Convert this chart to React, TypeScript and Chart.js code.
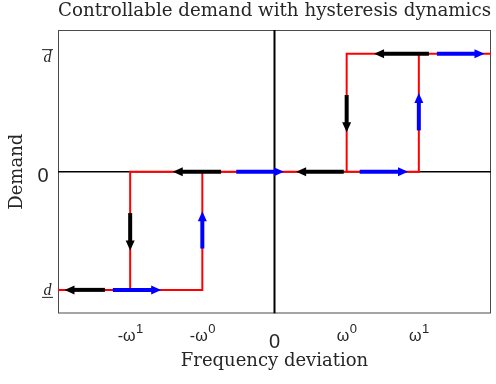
import React, { useEffect, useRef } from 'react';
import { Chart, registerables } from 'chart.js';

Chart.register(...registerables);

// ---- text ----
const titleText = 'Controllable demand with hysteresis dynamics';
const xAxisLabel = 'Frequency deviation';
const yAxisLabel = 'Demand';

// ---- axes ----
const xMin = -3;
const xMax = 3;
const yMin = -1.2;
const yMax = 1.2;

// x ticks: -ω¹, -ω⁰, 0, ω⁰, ω¹
const xTickValues = [-2, -1, 0, 1, 2];
const xTickBase = ['-ω', '-ω', '0', 'ω', 'ω'];
const xTickSup = ['1', '0', '', '0', '1'];

// y ticks: d (under-barred), 0, d (over-barred)
const yTickValues = [-1, 0, 1];
const yTickLabels = ['d', '0', 'd'];
const yTickBar = ['under', 'none', 'over'];

// ---- hysteresis branches (red) ----
const branchLowX = [-3, -1, -1];
const branchLowY = [-1, -1, 0];
const branchMidX = [-2, -2, 2, 2];
const branchMidY = [-1, 0, 0, 1];
const branchHighX = [1, 1, 3];
const branchHighY = [0, 1, 1];

// ---- zero axes (black) ----
const axisHX = [-3, 3];
const axisHY = [0, 0];
const axisVX = [0, 0];
const axisVY = [-1.2, 1.2];

// ---- direction arrows (start -> tip) ----
const arrowX0 = [2.14, 0.96, -0.74, -2.35, 1, -2, 2.25, 1.18, -0.53, -2.24, 2, -1];
const arrowY0 = [1, 0, 0, -1, 0.65, -0.35, 1, 0, 0, -1, 0.35, -0.65];
const arrowX1 = [1.38, 0.3, -1.41, -2.91, 1, -2, 2.91, 1.85, 0.13, -1.57, 2, -1];
const arrowY1 = [1, 0, 0, -1, 0.335, -0.667, 1, 0, 0, -1, 0.667, -0.335];
const arrowColors = ['#000000', '#000000', '#000000', '#000000', '#000000', '#000000',
  '#0000ff', '#0000ff', '#0000ff', '#0000ff', '#0000ff', '#0000ff'];

const RED = '#ff0000';
const TEXT = '#262626';
const SERIF = "'DejaVu Serif', serif";
const SANS = "'Liberation Sans', Arial, sans-serif";
const ITALIC_SERIF = "'Liberation Serif', serif";

function drawArrow(ctx: CanvasRenderingContext2D, x0: number, y0: number, x1: number, y1: number, color: string) {
  const dx = x1 - x0;
  const dy = y1 - y0;
  const len = Math.hypot(dx, dy);
  if (!len) return;
  const ux = dx / len;
  const uy = dy / len;
  const headLen = 10;
  const headHalf = 4.5;
  const bx = x1 - ux * headLen;
  const by = y1 - uy * headLen;
  ctx.strokeStyle = color;
  ctx.lineWidth = 4;
  ctx.lineCap = 'butt';
  ctx.beginPath();
  ctx.moveTo(x0, y0);
  ctx.lineTo(bx + ux, by + uy);
  ctx.stroke();
  ctx.fillStyle = color;
  ctx.beginPath();
  ctx.moveTo(x1, y1);
  ctx.lineTo(bx - uy * headHalf, by + ux * headHalf);
  ctx.lineTo(bx + uy * headHalf, by - ux * headHalf);
  ctx.closePath();
  ctx.fill();
}

const decorPlugin = {
  id: 'decor',
  beforeDatasetsDraw(chart: any) {
    const { ctx, chartArea: a } = chart;
    ctx.save();
    ctx.strokeStyle = '#4a4a4a';
    ctx.lineWidth = 1;
    ctx.strokeRect(a.left + 0.5, a.top + 0.5, a.right - a.left - 1, a.bottom - a.top - 1);
    ctx.restore();
  },
  afterDatasetsDraw(chart: any) {
    const { ctx } = chart;
    const xs = chart.scales.x;
    const ys = chart.scales.y;
    ctx.save();
    for (let i = 0; i < arrowX0.length; i++) {
      drawArrow(
        ctx,
        xs.getPixelForValue(arrowX0[i]),
        ys.getPixelForValue(arrowY0[i]),
        xs.getPixelForValue(arrowX1[i]),
        ys.getPixelForValue(arrowY1[i]),
        arrowColors[i]
      );
    }
    ctx.restore();
  },
  afterDraw(chart: any) {
    const { ctx, chartArea: a } = chart;
    const xs = chart.scales.x;
    const ys = chart.scales.y;
    ctx.save();
    ctx.fillStyle = TEXT;
    ctx.textBaseline = 'alphabetic';
    // x tick labels
    for (let i = 0; i < xTickValues.length; i++) {
      const px = xs.getPixelForValue(xTickValues[i]);
      if (!xTickSup[i]) {
        ctx.font = `20px ${SANS}`;
        ctx.textAlign = 'center';
        ctx.fillText(xTickBase[i], px, a.bottom + 34);
      } else {
        ctx.font = `16px ${SANS}`;
        const wb = ctx.measureText(xTickBase[i]).width;
        ctx.font = `13px ${SANS}`;
        const ws = ctx.measureText(xTickSup[i]).width;
        const start = px - (wb + ws) / 2;
        ctx.textAlign = 'left';
        ctx.font = `16px ${SANS}`;
        ctx.fillText(xTickBase[i], start, a.bottom + 27);
        ctx.font = `13px ${SANS}`;
        ctx.fillText(xTickSup[i], start + wb + 0.5, a.bottom + 19);
      }
    }
    // y tick labels
    for (let i = 0; i < yTickValues.length; i++) {
      const py = ys.getPixelForValue(yTickValues[i]);
      if (yTickBar[i] === 'none') {
        ctx.font = `20px ${SANS}`;
        ctx.textAlign = 'right';
        ctx.fillText(yTickLabels[i], a.left - 9.5, py + 10);
      } else {
        ctx.font = `italic 16px ${ITALIC_SERIF}`;
        ctx.textAlign = 'center';
        const cx = a.left - 10.5;
        const base = yTickBar[i] === 'over' ? py + 8 : py + 4.7;
        ctx.fillText(yTickLabels[i], cx, base);
        const barY = yTickBar[i] === 'over' ? py - 4 : py + 7.5;
        ctx.strokeStyle = TEXT;
        ctx.lineWidth = 1;
        ctx.beginPath();
        ctx.moveTo(cx - 5.5, barY);
        ctx.lineTo(cx + 5.5, barY);
        ctx.stroke();
      }
    }
    ctx.restore();
  },
};

export default function App() {
  const ref = useRef<HTMLCanvasElement>(null);
  useEffect(() => {
    const canvas = ref.current;
    if (!canvas) return;
    const toPts = (xs: number[], ys: number[]) => xs.map((x, i) => ({ x, y: ys[i] }));
    const line = (label: string, data: any[], color: string, width: number) => ({
      label,
      data,
      showLine: true,
      borderColor: color,
      backgroundColor: color,
      borderWidth: width,
      pointRadius: 0,
      pointHoverRadius: 0,
      fill: false,
      tension: 0,
      borderCapStyle: 'butt',
    });
    const chart = new Chart(canvas, {
      type: 'scatter',
      data: {
        datasets: [
          line('low branch', toPts(branchLowX, branchLowY), RED, 2),
          line('mid branch', toPts(branchMidX, branchMidY), RED, 2),
          line('high branch', toPts(branchHighX, branchHighY), RED, 2),
          line('x axis', toPts(axisHX, axisHY), '#000000', 1.5),
          line('y axis', toPts(axisVX, axisVY), '#000000', 2),
        ] as any,
      },
      options: {
        animation: false,
        responsive: true,
        maintainAspectRatio: false,
        layout: { padding: { left: 0, right: 5, top: 0, bottom: 0 } },
        plugins: {
          legend: { display: false },
          tooltip: { enabled: false },
          title: {
            display: true,
            text: titleText,
            color: TEXT,
            fullSize: false,
            font: { family: SERIF, size: 18.5, weight: 'normal', lineHeight: 1 },
            padding: { top: 2, bottom: 9.5 },
          },
        },
        scales: {
          x: {
            type: 'linear',
            min: xMin,
            max: xMax,
            grid: { display: false },
            border: { display: false },
            ticks: { display: false },
            title: {
              display: true,
              text: xAxisLabel,
              color: TEXT,
              font: { family: SERIF, size: 18, weight: 'normal', lineHeight: 1.2 },
              padding: { top: 0, bottom: 12 },
            },
            afterFit: (s: any) => { s.height = 70.5; },
          },
          y: {
            type: 'linear',
            min: yMin,
            max: yMax,
            grid: { display: false },
            border: { display: false },
            ticks: { display: false },
            title: {
              display: true,
              text: yAxisLabel,
              color: TEXT,
              font: { family: SERIF, size: 18, weight: 'normal', lineHeight: 1.2 },
              padding: { top: 7, bottom: 0 },
            },
            afterFit: (s: any) => { s.width = 58; },
          },
        },
      } as any,
      plugins: [decorPlugin],
    });
    return () => chart.destroy();
  }, []);
  return (
    <div style={{ position: 'absolute', left: 0, top: 0, width: 496, height: 384 }}>
      <canvas ref={ref} />
    </div>
  );
}
